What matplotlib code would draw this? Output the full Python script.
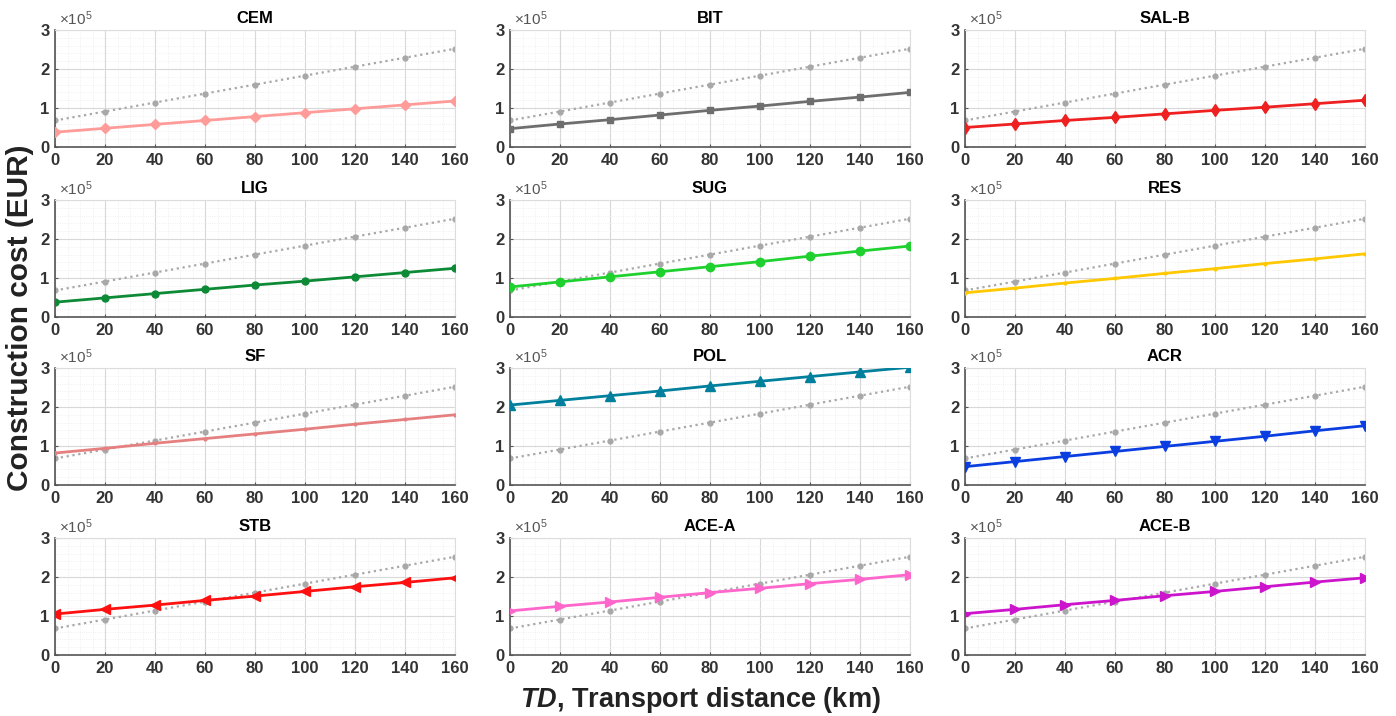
import matplotlib
matplotlib.use("Agg")
import matplotlib.pyplot as plt
from matplotlib.ticker import MultipleLocator, FuncFormatter

plt.rcParams["font.family"] = ["Liberation Sans", "DejaVu Sans"]
plt.rcParams["mathtext.fontset"] = "custom"
plt.rcParams["mathtext.rm"] = "Liberation Sans"
plt.rcParams["mathtext.it"] = "Liberation Sans:italic:bold"
plt.rcParams["mathtext.bf"] = "Liberation Sans:bold"

# transport distance (km)
td = [0, 20, 40, 60, 80, 100, 120, 140, 160]

# baseline scenario drawn dotted in every panel (EUR)
baseline = [0.68e5, 0.91e5, 1.14e5, 1.37e5, 1.60e5, 1.83e5, 2.06e5, 2.29e5, 2.52e5]

names = ["CEM", "BIT", "SAL-B", "LIG", "SUG", "RES",
         "SF", "POL", "ACR", "STB", "ACE-A", "ACE-B"]

cem = [0.38e5, 0.48e5, 0.58e5, 0.68e5, 0.78e5, 0.88e5, 0.98e5, 1.08e5, 1.18e5]
bit = [0.47e5, 0.59e5, 0.70e5, 0.82e5, 0.94e5, 1.05e5, 1.17e5, 1.28e5, 1.40e5]
sal_b = [0.50e5, 0.59e5, 0.68e5, 0.76e5, 0.85e5, 0.94e5, 1.02e5, 1.11e5, 1.20e5]
lig = [0.38e5, 0.49e5, 0.60e5, 0.71e5, 0.82e5, 0.92e5, 1.03e5, 1.14e5, 1.25e5]
sug = [0.77e5, 0.90e5, 1.03e5, 1.16e5, 1.29e5, 1.42e5, 1.56e5, 1.69e5, 1.82e5]
res = [0.62e5, 0.74e5, 0.87e5, 0.99e5, 1.12e5, 1.24e5, 1.37e5, 1.49e5, 1.62e5]
sf = [0.82e5, 0.94e5, 1.07e5, 1.19e5, 1.31e5, 1.43e5, 1.56e5, 1.68e5, 1.80e5]
pol = [2.05e5, 2.17e5, 2.29e5, 2.41e5, 2.54e5, 2.66e5, 2.78e5, 2.90e5, 3.02e5]
acr = [0.47e5, 0.60e5, 0.73e5, 0.86e5, 0.99e5, 1.12e5, 1.25e5, 1.39e5, 1.52e5]
stb = [1.05e5, 1.17e5, 1.28e5, 1.40e5, 1.51e5, 1.63e5, 1.75e5, 1.86e5, 1.98e5]
ace_a = [1.13e5, 1.25e5, 1.36e5, 1.48e5, 1.60e5, 1.71e5, 1.83e5, 1.94e5, 2.06e5]
ace_b = [1.06e5, 1.17e5, 1.29e5, 1.40e5, 1.52e5, 1.63e5, 1.75e5, 1.87e5, 1.98e5]

series = [cem, bit, sal_b, lig, sug, res, sf, pol, acr, stb, ace_a, ace_b]

colors = ["#ff9c9a", "#6e6e6e", "#ee2020", "#0d8a36", "#1fd12f", "#ffc800",
          "#e68080", "#00809c", "#0b3ee0", "#ff1010", "#ff66cc", "#cc14cc"]
markers = ["D", "s", "d", "o", "o", ".", ".", "^", "v", "<", ">", ">"]
msizes = [5, 5, 6, 5, 6, 4, 4, 7, 7, 7, 7, 7]

fig = plt.figure(figsize=(13.96, 7.16), dpi=100)
W, H = 1396.0, 716.0
lefts = [55, 510, 965]
tops = [30, 200, 368, 538]
aw, ah = 400, 117

tick_color = "#333333"

for i, (name, y) in enumerate(zip(names, series)):
    r, c = divmod(i, 3)
    ax = fig.add_axes([lefts[c] / W, 1 - (tops[r] + ah) / H, aw / W, ah / H])
    ax.plot(td, baseline, linestyle=":", color="#a8a8a8", linewidth=1.6,
            marker="o", markersize=3.5, zorder=2)
    ax.plot(td, y, color=colors[i], linewidth=2.0, marker=markers[i],
            markersize=msizes[i], zorder=3)
    ax.set_xlim(0, 160)
    ax.set_ylim(0, 3e5)
    ax.xaxis.set_major_locator(MultipleLocator(20))
    ax.xaxis.set_minor_locator(MultipleLocator(5))
    ax.yaxis.set_major_locator(MultipleLocator(1e5))
    ax.yaxis.set_minor_locator(MultipleLocator(0.2e5))
    ax.yaxis.set_major_formatter(FuncFormatter(lambda v, p: "%d" % round(v / 1e5)))
    ax.grid(which="major", color="#d8d8d8", linewidth=0.8)
    ax.grid(which="minor", color="#ececec", linewidth=0.6, linestyle=":")
    ax.set_axisbelow(True)
    ax.tick_params(which="both", direction="in", length=2.5, color="#555555",
                   labelsize=12, labelcolor=tick_color, pad=4)
    ax.tick_params(which="minor", length=0)
    for lbl in ax.get_xticklabels() + ax.get_yticklabels():
        lbl.set_fontweight("bold")
    for side in ["left", "bottom"]:
        ax.spines[side].set_color("#555555")
        ax.spines[side].set_linewidth(1.2)
    for side in ["top", "right"]:
        ax.spines[side].set_color("#dddddd")
    ax.set_title(name, fontsize=12, fontweight="bold", pad=5)
    ax.text(0.01, 1.02, r"$\times10^5$", transform=ax.transAxes,
            fontsize=11, color="#555555", ha="left", va="bottom")

fig.text(20 / W, 1 - 318 / H, "Construction cost (EUR)", rotation=90,
         fontsize=21.5, fontweight="bold", color="#222222", ha="center", va="center")
fig.text(700 / W, 1 - 700 / H, r"$TD$, Transport distance (km)",
         fontsize=19.5, fontweight="bold", color="#222222", ha="center", va="center")

fig.savefig("out.png", dpi=100)
